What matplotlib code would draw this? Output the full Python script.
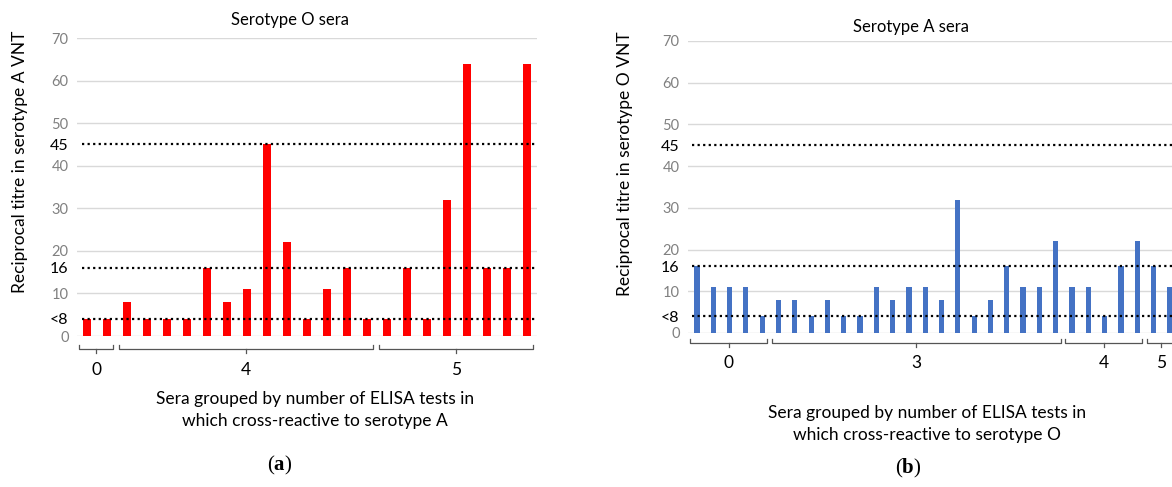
import matplotlib
matplotlib.use("Agg")
import matplotlib.pyplot as plt
import numpy as np

plt.rcParams['font.family'] = ['Lato', 'DejaVu Sans']
plt.rcParams['mathtext.fontset'] = 'custom'
plt.rcParams['mathtext.rm'] = 'Liberation Serif'
plt.rcParams['mathtext.bf'] = 'Liberation Serif:bold'

# Serotype O sera: reciprocal titre in serotype A VNT
titres_o = [4, 4,
            8, 4, 4, 4, 16, 8, 11, 45, 22, 4, 11, 16, 4,
            4, 16, 4, 32, 64, 16, 16, 64]
groups_o = ["0", "4", "5"]
group_sizes_o = [2, 13, 8]

# Serotype A sera: reciprocal titre in serotype O VNT
titres_a = [16, 11, 11, 11, 4,
            8, 8, 4, 8, 4, 4, 11, 8, 11, 11, 8, 32, 4, 8, 16, 11, 11, 22,
            11, 11, 4, 16, 22,
            16, 11]
groups_a = ["0", "3", "4", "5"]
group_sizes_a = [5, 18, 5, 2]

grey_ticks = [0, 10, 20, 30, 40, 50, 60, 70]
cutoffs = [4, 16, 45]
cutoff_labels = ["<8", "16", "45"]

W, H = 1172, 487
fig = plt.figure(figsize=(W / 100, H / 100), dpi=100)


def px(x0, y0, x1, y1):
    return [x0 / W, 1 - y1 / H, (x1 - x0) / W, (y1 - y0) / H]


def panel(rect, values, groups, sizes, color, width, xlim, bracket_y, label_y):
    ax = fig.add_axes(rect)
    x = np.arange(len(values))
    ax.bar(x, values, width=width, color=color, zorder=3)
    ax.set_xlim(*xlim)
    ax.set_ylim(0, 70)
    for s in ax.spines.values():
        s.set_visible(False)
    ax.set_xticks([])
    for g in grey_ticks:
        ax.axhline(g, color="#d9d9d9", lw=1.0, zorder=1)
    ax.hlines(cutoffs, xlim[0] + 0.25, len(values) - 0.5, colors="black",
              linestyles=(0, (1, 1.5)), lw=1.6, zorder=4, clip_on=False)
    ax.set_yticks(grey_ticks + cutoffs)
    ax.set_yticklabels([str(g) for g in grey_ticks] + cutoff_labels)
    ax.tick_params(axis="y", length=0, pad=6)
    for lab in ax.get_yticklabels():
        if lab.get_text() in cutoff_labels:
            lab.set_color("black")
            lab.set_fontsize(11.5)
        else:
            lab.set_color("#808080")
            lab.set_fontsize(10.5)

    # group brackets under the bars
    start = 0
    for name, n in zip(groups, sizes):
        a, b = start - 0.4, start + n - 1 + 0.3
        mid = (a + b) / 2
        ax.plot([a, a, b, b], [bracket_y + 0.9, bracket_y, bracket_y, bracket_y + 0.9],
                color="#555555", lw=0.9, clip_on=False)
        ax.plot([mid, mid], [bracket_y, bracket_y - 0.9], color="#555555",
                lw=0.9, clip_on=False)
        ax.text(mid, label_y, name, ha="center", va="center", fontsize=12.5,
                clip_on=False)
        start += n
    return ax


panel(px(77, 38, 537, 336), titres_o, groups_o, group_sizes_o, "#ff0000",
      0.36, (-0.5, 22.5), -3.1, -8.0)
panel(px(688, 41, 1178, 333), titres_a, groups_a, group_sizes_a, "#4472c4",
      0.32, (-0.55, 29.5), -2.4, -7.3)

fig.text(290 / W, 1 - 20 / H, "Serotype O sera", ha="center", va="center", fontsize=12)
fig.text(911 / W, 1 - 27 / H, "Serotype A sera", ha="center", va="center", fontsize=12)

fig.text(20 / W, 1 - 162 / H, "Reciprocal titre in serotype A VNT", rotation=90,
         ha="center", va="center", fontsize=12.5)
fig.text(625 / W, 1 - 164 / H, "Reciprocal titre in serotype O VNT", rotation=90,
         ha="center", va="center", fontsize=12.5)

fig.text(315 / W, 1 - 410 / H,
         "Sera grouped by number of ELISA tests in\nwhich cross-reactive to serotype A",
         ha="center", va="center", fontsize=12.5, linespacing=1.4)
fig.text(927 / W, 1 - 424 / H,
         "Sera grouped by number of ELISA tests in\nwhich cross-reactive to serotype O",
         ha="center", va="center", fontsize=12.5, linespacing=1.4)

# panel letters: roman brackets, bold letter
fig.text(280 / W, 1 - 465 / H, r"$(\mathbf{a})$", ha="center", va="center",
         fontsize=15)
fig.text(908 / W, 1 - 468 / H, r"$(\mathbf{b})$", ha="center", va="center",
         fontsize=15)

fig.savefig("out.png", dpi=100)
